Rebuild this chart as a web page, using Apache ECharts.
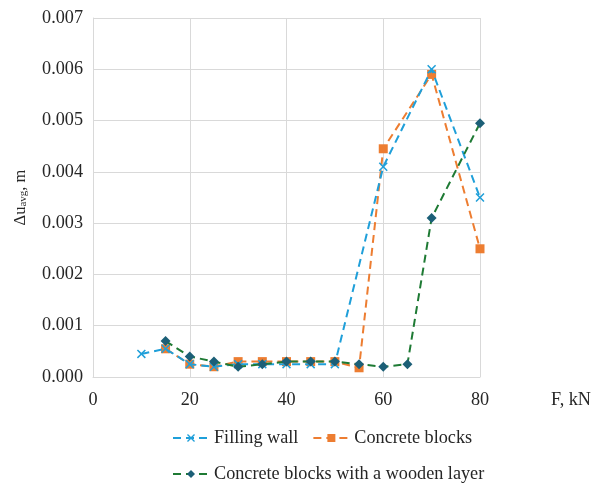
<!DOCTYPE html>
<html>
<head>
<meta charset="utf-8">
<script src="https://cdn.jsdelivr.net/npm/echarts@6/dist/echarts.min.js"></script>
<style>
  html, body { margin: 0; padding: 0; background: #fff; }
  #chart { width: 601px; height: 483px; }
</style>
</head>
<body>
<div id="chart"></div>
<script>
// load F, kN
const fillX = [10, 15, 20, 25, 30, 35, 40, 45, 50, 60, 70, 80]
const fillY = [0.00045, 0.00055, 0.00025, 0.0002, 0.00025, 0.00025, 0.00025, 0.00025, 0.00025, 0.0041, 0.006, 0.0035]

const blockX = [15, 20, 25, 30, 35, 40, 45, 50, 55, 60, 70, 80]
const blockY = [0.00055, 0.00025, 0.0002, 0.0003, 0.0003, 0.0003, 0.0003, 0.0003, 0.00018, 0.00445, 0.0059, 0.0025]

const woodX = [15, 20, 25, 30, 35, 40, 45, 50, 55, 60, 65, 70, 80]
const woodY = [0.0007, 0.0004, 0.0003, 0.0002, 0.00025, 0.0003, 0.0003, 0.0003, 0.00025, 0.0002, 0.00025, 0.0031, 0.00495]

const names = ['Filling wall', 'Concrete blocks', 'Concrete blocks with a wooden layer']

const pairs = (xs, ys) => xs.map((x, i) => [x, ys[i]])
const font = 'Liberation Serif'
const fs = 18.2
const crossIcon = 'path://M0,1.2L1.2,0L5,3.8L8.8,0L10,1.2L6.2,5L10,8.8L8.8,10L5,6.2L1.2,10L0,8.8L3.8,5Z'

const myChart = echarts.init(document.getElementById('chart'))
myChart.setOption({
  animation: false,
  textStyle: { fontFamily: font },
  grid: { left: 93, right: 121, top: 18, bottom: 106 },
  legend: [
    {
      data: [names[0], names[1]],
      left: 167,
      top: 424,
      itemWidth: 36,
      itemHeight: 10,
      itemGap: 14,
      textStyle: { fontFamily: font, fontSize: fs, color: '#262626' }
    },
    {
      data: [names[2]],
      left: 167,
      top: 460,
      itemWidth: 36,
      itemHeight: 10,
      textStyle: { fontFamily: font, fontSize: fs, color: '#262626' }
    }
  ],
  xAxis: {
    type: 'value',
    min: 0,
    max: 80,
    interval: 20,
    name: 'F, kN',
    nameLocation: 'end',
    nameGap: 71,
    nameTextStyle: { fontFamily: font, fontSize: fs, color: '#262626', verticalAlign: 'top', padding: [14, 0, 0, 0] },
    axisLine: { show: true, lineStyle: { color: '#d9d9d9' } },
    axisTick: { show: false },
    axisLabel: { fontFamily: font, fontSize: fs, color: '#262626', margin: 14 },
    splitLine: { lineStyle: { color: '#d9d9d9' } }
  },
  yAxis: {
    type: 'value',
    min: 0,
    max: 0.007,
    interval: 0.001,
    name: '{n|Δu}{s|avg}{n|, m}',
    nameLocation: 'middle',
    nameGap: 64,
    nameRotate: 90,
    nameTextStyle: {
      rich: {
        n: { fontFamily: font, fontSize: 16.5, color: '#262626' },
        s: { fontFamily: font, fontSize: 11, color: '#262626', verticalAlign: 'bottom', padding: [6, 0, 0, 0] }
      }
    },
    axisLine: { show: true, lineStyle: { color: '#d9d9d9' } },
    axisTick: { show: false },
    axisLabel: {
      fontFamily: font,
      fontSize: fs,
      color: '#262626',
      margin: 10,
      formatter: (v) => v.toFixed(3)
    },
    splitLine: { lineStyle: { color: '#d9d9d9' } }
  },
  series: [
    {
      name: names[0],
      type: 'line',
      data: pairs(fillX, fillY),
      symbol: crossIcon,
      symbolSize: 9,
      z: 3,
      itemStyle: { color: '#1f9fd9' },
      lineStyle: { color: '#1f9fd9', width: 2, type: [8, 5] }
    },
    {
      name: names[1],
      type: 'line',
      data: pairs(blockX, blockY),
      symbol: 'rect',
      symbolSize: 9,
      z: 2,
      itemStyle: { color: '#ed7d31' },
      lineStyle: { color: '#ed7d31', width: 2, type: [8, 5] }
    },
    {
      name: names[2],
      type: 'line',
      data: pairs(woodX, woodY),
      symbol: 'diamond',
      symbolSize: 10,
      z: 4,
      itemStyle: { color: '#1c5f77' },
      lineStyle: { color: '#1e7a34', width: 2, type: [8, 5] }
    }
  ]
})
</script>
</body>
</html>
